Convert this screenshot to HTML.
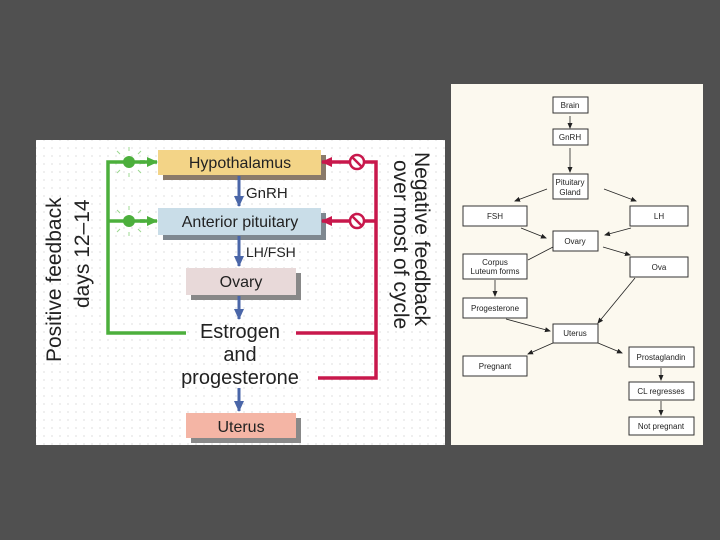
<!DOCTYPE html>
<html><head><meta charset="utf-8"><style>
html,body{margin:0;padding:0;width:720px;height:540px;overflow:hidden;background:#4e4e4e}
svg{display:block}
</style></head><body>
<svg width="720" height="540" viewBox="0 0 720 540" xmlns="http://www.w3.org/2000/svg" font-family="Liberation Sans, sans-serif">
<defs>
<pattern id="dots" width="8" height="8" patternUnits="userSpaceOnUse"><rect width="8" height="8" fill="#fff"/><circle cx="4" cy="4" r="0.6" fill="#c8c8c8"/></pattern>
<marker id="ab" markerUnits="userSpaceOnUse" markerWidth="12" markerHeight="12" refX="10" refY="6" orient="auto"><path d="M0,1L11,6L0,11z" fill="#4a66a8"/></marker>
<marker id="ag" markerUnits="userSpaceOnUse" markerWidth="12" markerHeight="12" refX="10" refY="6" orient="auto"><path d="M0,1L11,6L0,11z" fill="#4caf3c"/></marker>
<marker id="ar" markerUnits="userSpaceOnUse" markerWidth="12" markerHeight="12" refX="10" refY="6" orient="auto"><path d="M0,1L11,6L0,11z" fill="#c8184c"/></marker>
<marker id="ak" markerUnits="userSpaceOnUse" markerWidth="6" markerHeight="6" refX="5" refY="3" orient="auto"><path d="M0,0.5L6,3L0,5.5z" fill="#222"/></marker>
</defs>
<rect width="720" height="540" fill="#505050"/>
<rect x="36" y="140" width="409" height="305" fill="url(#dots)"/>
<g>
<rect x="163" y="155" width="163" height="25" fill="#8a7a6a"/>
<rect x="158" y="150" width="163" height="25" fill="#f3d487"/>
<text x="240" y="168" font-size="16" text-anchor="middle" fill="#222">Hypothalamus</text>
<rect x="163" y="213" width="163" height="27" fill="#7f8890"/>
<rect x="158" y="208" width="163" height="27" fill="#c9dde8"/>
<text x="240" y="227" font-size="16" text-anchor="middle" fill="#222">Anterior pituitary</text>
<rect x="191" y="273" width="110" height="27" fill="#888"/>
<rect x="186" y="268" width="110" height="27" fill="#e8d9d9"/>
<text x="241" y="287" font-size="16" text-anchor="middle" fill="#222">Ovary</text>
<rect x="191" y="418" width="110" height="25" fill="#888"/>
<rect x="186" y="413" width="110" height="25" fill="#f4b5a5"/>
<text x="241" y="432" font-size="16" text-anchor="middle" fill="#222">Uterus</text>
</g>
<g stroke="#4a66a8" stroke-width="3" fill="none">
<line x1="239" y1="176" x2="239" y2="206" marker-end="url(#ab)"/>
<line x1="239" y1="236" x2="239" y2="266" marker-end="url(#ab)"/>
<line x1="239" y1="296" x2="239" y2="319" marker-end="url(#ab)"/>
<line x1="239" y1="388" x2="239" y2="411" marker-end="url(#ab)"/>
</g>
<text x="246" y="198" font-size="15" fill="#222">GnRH</text>
<text x="246" y="257" font-size="14" fill="#222">LH/FSH</text>
<text x="240" y="338" font-size="20" text-anchor="middle" fill="#222">Estrogen</text>
<text x="240" y="361" font-size="20" text-anchor="middle" fill="#222">and</text>
<text x="240" y="384" font-size="20" text-anchor="middle" fill="#222">progesterone</text>
<g stroke="#4caf3c" stroke-width="3.5" fill="none">
<polyline points="186,333 108,333 108,162 145,162"/>
<line x1="108" y1="221" x2="145" y2="221"/>
<line x1="140" y1="162" x2="157" y2="162" marker-end="url(#ag)"/>
<line x1="140" y1="221" x2="157" y2="221" marker-end="url(#ag)"/>
</g>
<circle cx="129" cy="162" r="6" fill="#4caf3c"/>
<circle cx="129" cy="221" r="6" fill="#4caf3c"/>
<g stroke="#9cd890" stroke-width="1">
<path d="M129,151v-4M129,173v4M120,154l-3,-3M138,154l3,-3M120,170l-3,3M138,170l3,3"/>
<path d="M129,210v-4M129,232v4M120,213l-3,-3M138,213l3,-3M120,229l-3,3M138,229l3,3"/>
</g>
<g stroke="#c8184c" stroke-width="3.5" fill="none">
<polyline points="296,333 376,333"/>
<polyline points="318,378 376,378 376,162 340,162"/>
<line x1="376" y1="221" x2="340" y2="221"/>
<line x1="340" y1="162" x2="322" y2="162" marker-end="url(#ar)"/>
<line x1="340" y1="221" x2="322" y2="221" marker-end="url(#ar)"/>
</g>
<g stroke="#c8184c" stroke-width="2.5" fill="#fff">
<circle cx="357" cy="162" r="7"/><line x1="352" y1="157" x2="362" y2="167"/>
<circle cx="357" cy="221" r="7"/><line x1="352" y1="216" x2="362" y2="226"/>
</g>
<text transform="translate(61,362) rotate(-90)" font-size="21" fill="#222">Positive feedback</text>
<text transform="translate(89,308) rotate(-90)" font-size="21" fill="#222">days 12–14</text>
<text transform="translate(415,152) rotate(90)" font-size="21" fill="#222">Negative feedback</text>
<text transform="translate(394,160) rotate(90)" font-size="21" fill="#222">over most of cycle</text>
<rect x="451" y="84" width="252" height="361" fill="#fcf9ef"/>
<g fill="#fff" stroke="#333" stroke-width="1">
<rect x="553" y="97" width="35" height="16"/>
<rect x="553" y="129" width="35" height="16"/>
<rect x="553" y="174" width="35" height="25"/>
<rect x="463" y="206" width="64" height="20"/>
<rect x="630" y="206" width="58" height="20"/>
<rect x="553" y="231" width="45" height="20"/>
<rect x="463" y="254" width="64" height="25"/>
<rect x="630" y="257" width="58" height="20"/>
<rect x="463" y="298" width="64" height="20"/>
<rect x="553" y="324" width="45" height="19"/>
<rect x="463" y="356" width="64" height="20"/>
<rect x="629" y="347" width="65" height="20"/>
<rect x="629" y="382" width="65" height="18"/>
<rect x="629" y="417" width="65" height="18"/>
</g>
<g font-size="8" text-anchor="middle" fill="#222">
<text x="570" y="108">Brain</text>
<text x="570" y="140">GnRH</text>
<text x="570" y="185">Pituitary</text>
<text x="570" y="195">Gland</text>
<text x="495" y="219">FSH</text>
<text x="659" y="219">LH</text>
<text x="575" y="244">Ovary</text>
<text x="495" y="265">Corpus</text>
<text x="495" y="274">Luteum forms</text>
<text x="659" y="270">Ova</text>
<text x="495" y="311">Progesterone</text>
<text x="575" y="336">Uterus</text>
<text x="495" y="369">Pregnant</text>
<text x="661" y="360">Prostaglandin</text>
<text x="661" y="394">CL regresses</text>
<text x="661" y="429">Not pregnant</text>
</g>
<g stroke="#222" stroke-width="0.8" fill="none">
<line x1="570" y1="116" x2="570" y2="128" marker-end="url(#ak)"/>
<line x1="570" y1="148" x2="570" y2="172" marker-end="url(#ak)"/>
<line x1="547" y1="189" x2="515" y2="201" marker-end="url(#ak)"/>
<line x1="604" y1="189" x2="636" y2="201" marker-end="url(#ak)"/>
<line x1="521" y1="228" x2="546" y2="238" marker-end="url(#ak)"/>
<line x1="631" y1="228" x2="605" y2="235" marker-end="url(#ak)"/>
<line x1="553" y1="247" x2="528" y2="260"/>
<line x1="603" y1="247" x2="630" y2="255" marker-end="url(#ak)"/>
<line x1="495" y1="280" x2="495" y2="296" marker-end="url(#ak)"/>
<line x1="635" y1="278" x2="598" y2="323" marker-end="url(#ak)"/>
<line x1="506" y1="319" x2="550" y2="331" marker-end="url(#ak)"/>
<line x1="553" y1="343" x2="528" y2="354" marker-end="url(#ak)"/>
<line x1="598" y1="343" x2="622" y2="353" marker-end="url(#ak)"/>
<line x1="661" y1="368" x2="661" y2="380" marker-end="url(#ak)"/>
<line x1="661" y1="401" x2="661" y2="415" marker-end="url(#ak)"/>
</g>
</svg>
</body></html>
